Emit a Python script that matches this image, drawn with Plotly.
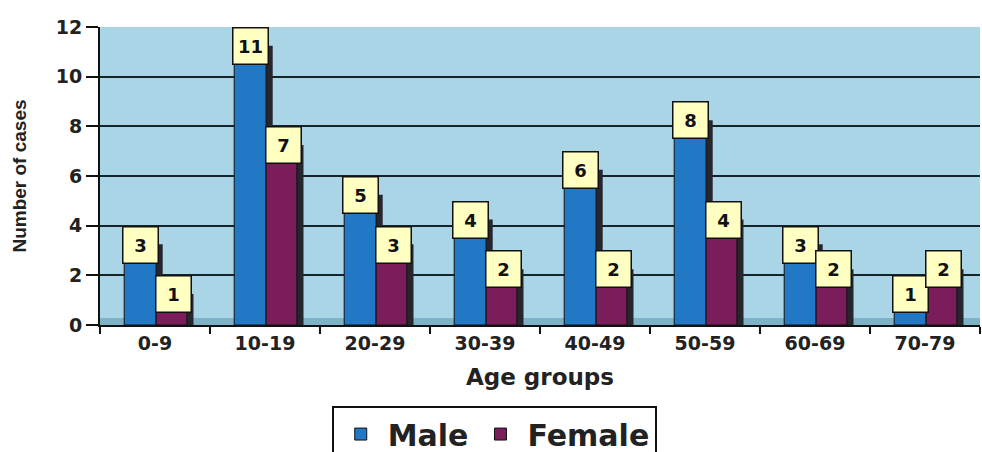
import plotly.graph_objects as go

# ---- data ----
age_groups = ["0-9", "10-19", "20-29", "30-39", "40-49", "50-59", "60-69", "70-79"]
male = [3, 11, 5, 4, 6, 8, 3, 1]
female = [1, 7, 3, 2, 2, 4, 2, 2]
y_ticks = [0, 2, 4, 6, 8, 10, 12]

MALE_C = "#2179c6"
FEMALE_C = "#7b1d5b"
SHADOW_C = "#26262f"
LABEL_BG = "#ffffc2"
FONT = "DejaVu Sans, Liberation Sans, Arial, sans-serif"

M_OFF, M_W = -0.28, 0.29
F_OFF, F_W = 0.01, 0.28
DX, DY = 0.06, 0.25  # 3-D depth (styling only)

fig = go.Figure()

fig.add_trace(go.Bar(x=age_groups, y=[v + DY for v in male], offset=M_OFF + DX, width=M_W,
                     marker=dict(color=SHADOW_C, line=dict(width=0)), showlegend=False, hoverinfo="skip"))
fig.add_trace(go.Bar(x=age_groups, y=male, offset=M_OFF, width=M_W, name="Male",
                     marker=dict(color=MALE_C, line=dict(color="#111", width=1))))
fig.add_trace(go.Bar(x=age_groups, y=[v + DY for v in female], offset=F_OFF + DX, width=F_W,
                     marker=dict(color=SHADOW_C, line=dict(width=0)), showlegend=False, hoverinfo="skip"))
fig.add_trace(go.Bar(x=age_groups, y=female, offset=F_OFF, width=F_W, name="Female",
                     marker=dict(color=FEMALE_C, line=dict(color="#111", width=1))))

for cat, m, f in zip(age_groups, male, female):
    for val, xs in ((m, -15), (f, 18)):
        fig.add_annotation(x=cat, y=val, xref="x", yref="y", text=f"<b>{val}</b>", showarrow=False,
                           xshift=xs, yshift=6, width=24, height=25, borderpad=5,
                           bgcolor=LABEL_BG, bordercolor="#111", borderwidth=1.5,
                           font=dict(family=FONT, size=18, color="#111"))

# 3-D floor strip
fig.add_shape(type="rect", xref="paper", yref="y", x0=0, x1=1, y0=0, y1=0.28,
              fillcolor="#7db2c7", line=dict(width=0), layer="below")

fig.update_layout(
    width=982, height=452,
    margin=dict(l=100, r=2, t=27, b=127, autoexpand=False),
    paper_bgcolor="white",
    plot_bgcolor="#a9d5e7",
    barmode="overlay",
    font=dict(family=FONT, color="#111"),
    legend=dict(orientation="h", x=0.448, xanchor="center", y=-0.272, yanchor="top",
                bordercolor="#111", borderwidth=2, bgcolor="white",
                font=dict(family=FONT, size=30, color="#222", weight="bold"), itemwidth=44),
    xaxis=dict(
        type="category", range=[-0.5, 7.5], tickson="boundaries",
        ticks="outside", ticklen=7, tickwidth=2, tickcolor="#111",
        showline=True, linecolor="#111", linewidth=2, showgrid=False,
        tickfont=dict(family=FONT, size=19, color="#222", weight="bold"),
        title=dict(text="Age groups", font=dict(family=FONT, size=23, color="#222", weight="bold"), standoff=16),
    ),
    yaxis=dict(
        range=[0, 12], tickvals=y_ticks,
        ticks="outside", ticklen=12, tickwidth=2, tickcolor="#111",
        showline=True, linecolor="#111", linewidth=2,
        showgrid=True, gridcolor="#15232b", gridwidth=2, zeroline=False,
        tickfont=dict(family=FONT, size=19, color="#222", weight="bold"),
        title=dict(text="Number of cases",
                   font=dict(family="Liberation Sans, Arial, sans-serif", size=19, color="#222", weight="bold"),
                   standoff=24),
    ),
)

fig.write_html("out.html")
